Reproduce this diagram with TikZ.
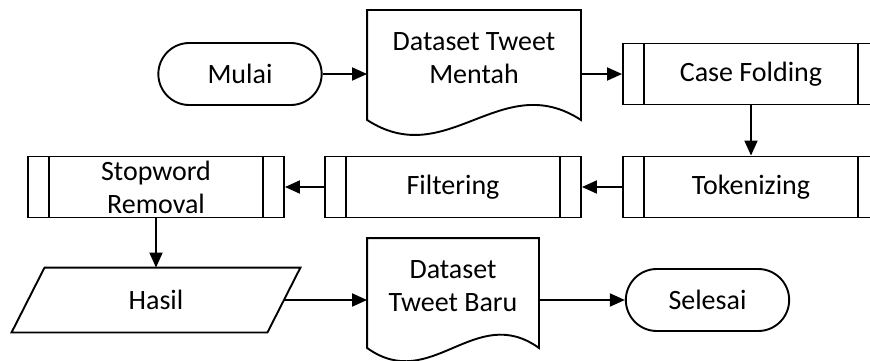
\documentclass[tikz,border=0pt]{standalone}
\usepackage{fontspec}
\setmainfont{Carlito}
\usetikzlibrary{arrows.meta,shapes.misc}
\begin{document}
\begin{tikzpicture}[x=1pt, y=-1pt,
    font=\fontsize{28}{33}\selectfont,
    line width=1.9pt,
    terminal/.style={rounded rectangle, draw, minimum width=170pt, minimum height=62pt},
    subproc/.style={rectangle, draw, minimum width=256pt, minimum height=61pt, align=center,
      path picture={
        \draw ([xshift=21pt]path picture bounding box.north west) -- ([xshift=21pt]path picture bounding box.south west);
        \draw ([xshift=-21pt]path picture bounding box.north east) -- ([xshift=-21pt]path picture bounding box.south east);
      }},
    doc/.style={rectangle, minimum height=94pt, inner sep=0pt, align=center},
    io/.style={rectangle, minimum width=254pt, minimum height=63pt, inner sep=0pt},
    >={Triangle[length=15pt,width=13pt]}
]
  \clip (0,0) rectangle (870,361);
  \node[terminal] (mulai) at (240,74) {Mulai};
  \node[doc, minimum width=212pt] (raw) at (474,58) {Dataset Tweet\\Mentah};
  \node[subproc] (fold) at (751,74) {Case Folding};
  \node[subproc] (token) at (751,187) {Tokenizing};
  \node[subproc] (filter) at (453,187) {Filtering};
  \node[subproc] (stop) at (156,187) {Stopword\\Removal};
  \node[io] (hasil) at (156,300) {Hasil};
  \node[doc, minimum width=170pt] (baru) at (453,286) {Dataset\\Tweet Baru};
  \node[terminal] (selesai) at (707.5,300) {Selesai};
  % document outlines
  \draw (raw.north west) -- (raw.north east) -- ([yshift=-14pt]raw.south east)
    .. controls +(-80,-52) and +(80,52) .. ([yshift=-14pt]raw.south west) -- cycle;
  \draw (baru.north west) -- (baru.north east) -- ([yshift=-14pt]baru.south east)
    .. controls +(-64,-46) and +(64,46) .. ([yshift=-14pt]baru.south west) -- cycle;
  % data outline
  \draw ([xshift=16.5pt]hasil.north west) -- ([xshift=16.5pt]hasil.north east)
    -- ([xshift=-16.5pt]hasil.south east) -- ([xshift=-16.5pt]hasil.south west) -- cycle;
  % connectors
  \draw[->] (mulai.east) -- (mulai.east -| raw.west);
  \draw[->] (raw.east |- fold.west) -- (fold.west);
  \draw[->] (fold) -- (token);
  \draw[->] (token) -- (filter);
  \draw[->] (filter) -- (stop);
  \draw[->] (stop) -- (hasil.north);
  \draw[->] (hasil.east) -- (hasil.east -| baru.west);
  \draw[->] (selesai.west -| baru.east) -- (selesai.west);
\end{tikzpicture}
\end{document}
